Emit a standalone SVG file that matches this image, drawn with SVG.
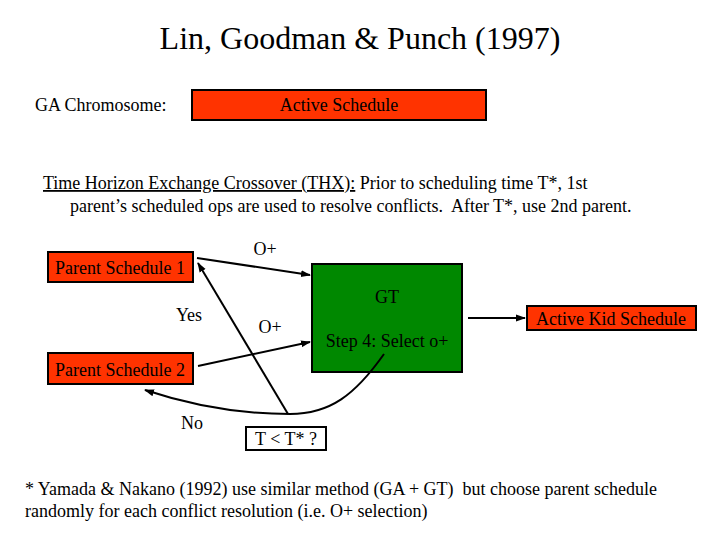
<svg xmlns="http://www.w3.org/2000/svg" width="720" height="540" viewBox="0 0 720 540">
<defs>
<style>
text{font-family:"Liberation Serif","Times New Roman",serif;fill:#000}
.t{font-size:18px}
.red{fill:#FF3300;stroke:#000;stroke-width:2}
.c{stroke:#000;stroke-width:2;fill:none}
</style>
<marker id="a" viewBox="0 0 10 10" refX="9" refY="5" markerWidth="10" markerHeight="10" orient="auto" markerUnits="userSpaceOnUse">
<path d="M0,1.5 L10,5 L0,8.5 z" fill="#000"/>
</marker>
</defs>
<rect width="720" height="540" fill="#fff"/>
<text x="360" y="49" font-size="32" text-anchor="middle">Lin, Goodman &amp; Punch (1997)</text>
<text class="t" x="35" y="111">GA Chromosome:</text>
<g id="active-schedule">
<rect class="red" x="192" y="90" width="294" height="30"/>
<text class="t" x="339" y="111" text-anchor="middle">Active Schedule</text>
</g>
<text class="t" x="43" y="189"><tspan text-decoration="underline">Time Horizon Exchange Crossover (THX):</tspan> Prior to scheduling time T*, 1st</text>
<text class="t" x="70" y="212" xml:space="preserve">parent’s scheduled ops are used to resolve conflicts.  After T*, use 2nd parent.</text>
<g id="parent1">
<rect class="red" x="48" y="252" width="145" height="30"/>
<text class="t" x="120" y="274" text-anchor="middle">Parent Schedule 1</text>
</g>
<g id="parent2">
<rect class="red" x="48" y="353" width="145" height="31"/>
<text class="t" x="120" y="376" text-anchor="middle">Parent Schedule 2</text>
</g>
<g id="gt">
<rect x="312" y="264" width="150" height="108" fill="#008800" stroke="#000" stroke-width="2"/>
<text class="t" x="387" y="303" text-anchor="middle">GT</text>
<text class="t" x="387" y="347" text-anchor="middle">Step 4: Select o+</text>
</g>
<g id="kid">
<rect class="red" x="527" y="306" width="169" height="24"/>
<text class="t" x="611" y="325" text-anchor="middle">Active Kid Schedule</text>
</g>
<g id="test">
<rect x="246" y="427" width="80" height="23" fill="#fff" stroke="#000" stroke-width="2"/>
<text class="t" x="286" y="445" text-anchor="middle">T &lt; T* ?</text>
</g>
<g id="connectors">
<path class="c" d="M197,258 L310,275" marker-end="url(#a)"/>
<path class="c" d="M198,366 L310,342" marker-end="url(#a)"/>
<path class="c" d="M288,414 L198,263" marker-end="url(#a)"/>
<path class="c" d="M384,354 C355,395 330,414 290,414 C240,414 190,405 145,390" marker-end="url(#a)"/>
<path class="c" d="M468,318 L525,318" marker-end="url(#a)"/>
</g>
<text class="t" x="265" y="255" text-anchor="middle">O+</text>
<text class="t" x="270" y="333" text-anchor="middle">O+</text>
<text class="t" x="189" y="321" text-anchor="middle">Yes</text>
<text class="t" x="192" y="429" text-anchor="middle">No</text>
<text class="t" x="25" y="495" xml:space="preserve">* Yamada &amp; Nakano (1992) use similar method (GA + GT)  but choose parent schedule</text>
<text class="t" x="25" y="517">randomly for each conflict resolution (i.e. O+ selection)</text>
</svg>
